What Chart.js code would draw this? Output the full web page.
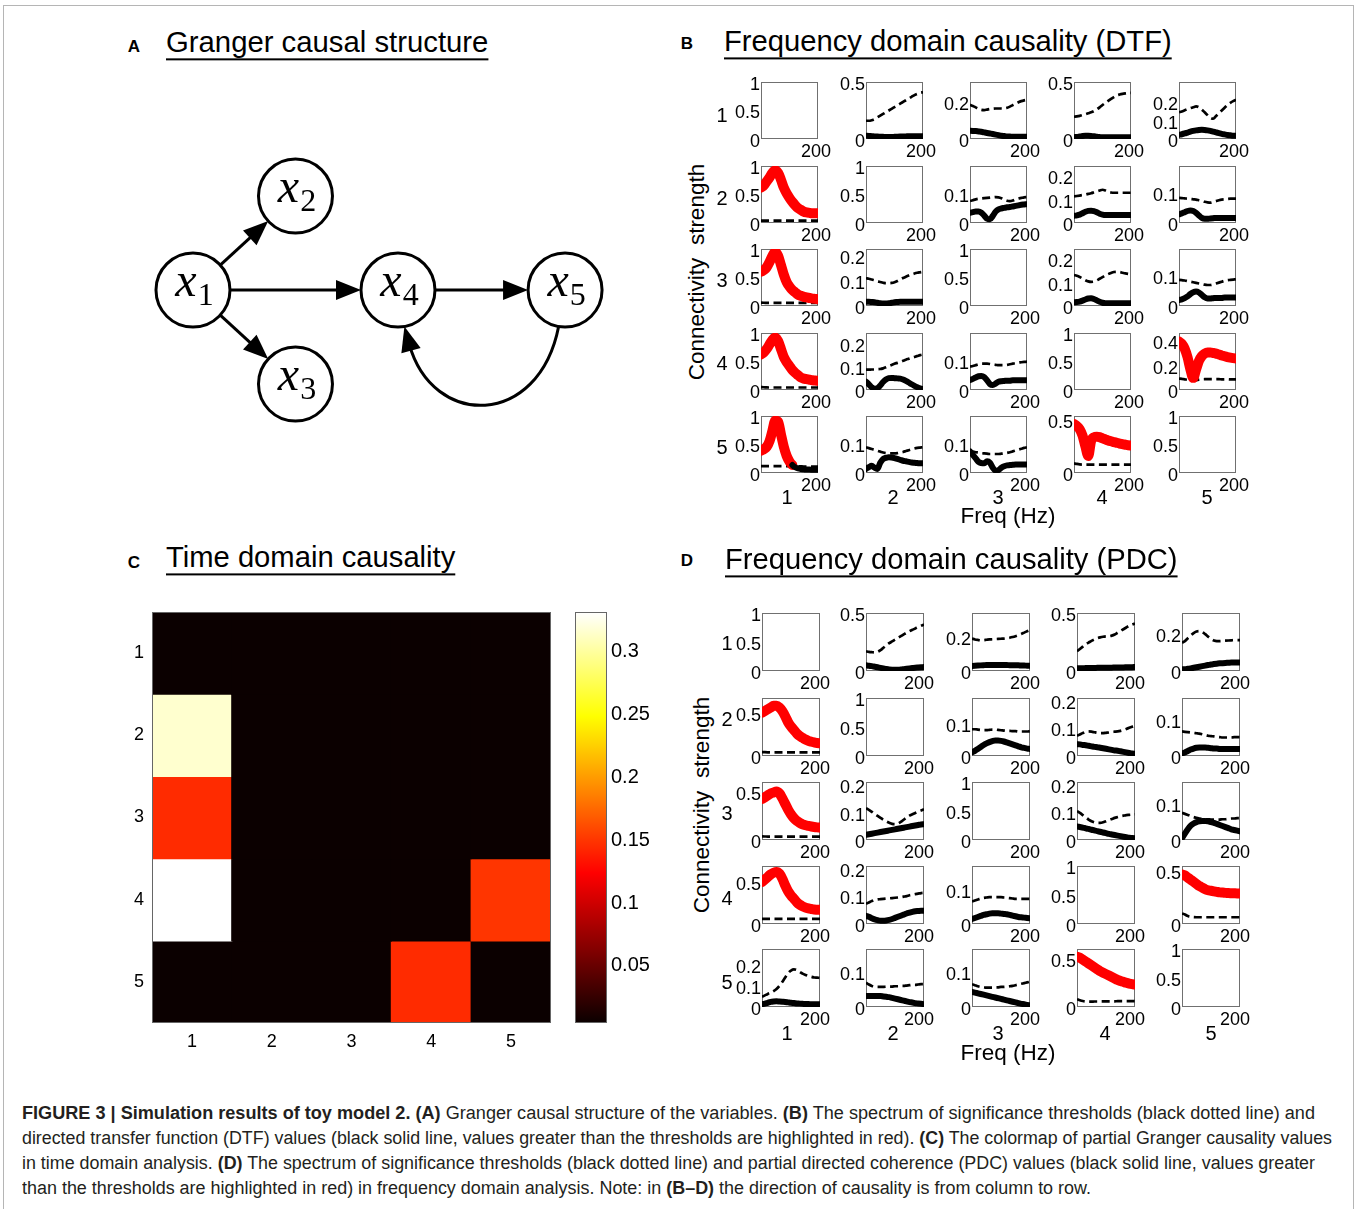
<!DOCTYPE html>
<html>
<head>
<meta charset="utf-8">
<script src="https://cdn.jsdelivr.net/npm/chart.js@4.4.1/dist/chart.umd.min.js"></script>
<style>
  body { margin: 0; background: #fff; width: 1357px; height: 1209px; overflow: hidden; position: relative;
         font-family: "Liberation Sans", Arial, Helvetica, sans-serif; color: #000; }
  canvas { position: absolute; }
  .t { position: absolute; white-space: pre; line-height: 1; }
  .title { text-decoration: underline; text-decoration-thickness: 2px; text-underline-offset: 6px; }
  .cap { position: absolute; white-space: pre; line-height: 1; color: #231f20; transform-origin: 0 50%; }
  #frame { position: absolute; left: 3px; top: 5px; width: 1349px; height: 1240px; border: 1px solid #b5b5b5; }
</style>
</head>
<body>
<div id="frame"></div>
<script>
// ─── Data ─────────────────────────────────────────────────────────────────────
const freqHz = [0, 10, 20, 30, 40, 50, 60, 70, 80, 90, 100, 110, 120, 130, 140, 150, 160, 170, 180, 190, 200];
const varLabels = ['1', '2', '3', '4', '5'];

// panel B: DTF, [row = target][column = source]; diagonal is empty
const dtfThreshold = [
  [null,
   [0.16,0.16,0.165,0.175,0.19,0.205,0.22,0.235,0.25,0.265,0.28,0.295,0.31,0.325,0.34,0.355,0.37,0.385,0.395,0.405,0.41],
   [0.186,0.18,0.172,0.164,0.158,0.157,0.16,0.163,0.165,0.166,0.166,0.166,0.167,0.17,0.176,0.184,0.192,0.2,0.206,0.21,0.213],
   [0.195,0.198,0.203,0.21,0.218,0.226,0.234,0.245,0.26,0.278,0.298,0.317,0.335,0.352,0.368,0.382,0.39,0.396,0.4,0.403,0.405],
   [0.145,0.15,0.156,0.162,0.168,0.173,0.177,0.172,0.16,0.145,0.13,0.115,0.11,0.125,0.14,0.155,0.17,0.185,0.197,0.206,0.213]],
  [[0.042,0.041,0.041,0.04,0.04,0.04,0.04,0.04,0.04,0.04,0.04,0.04,0.04,0.04,0.04,0.04,0.04,0.04,0.04,0.04,0.04],
   null,
   [0.077,0.08,0.083,0.085,0.086,0.087,0.088,0.089,0.09,0.091,0.09,0.087,0.082,0.078,0.077,0.079,0.083,0.086,0.088,0.09,0.091],
   [0.114,0.116,0.118,0.12,0.122,0.125,0.128,0.132,0.136,0.14,0.143,0.14,0.134,0.131,0.13,0.13,0.13,0.13,0.13,0.13,0.13],
   [0.084,0.083,0.082,0.081,0.08,0.079,0.078,0.076,0.074,0.071,0.069,0.068,0.07,0.073,0.076,0.078,0.079,0.08,0.081,0.081,0.081]],
  [[0.058,0.057,0.056,0.055,0.055,0.055,0.055,0.055,0.055,0.055,0.055,0.055,0.055,0.055,0.055,0.055,0.055,0.055,0.055,0.055,0.055],
   [0.112,0.11,0.107,0.104,0.1,0.097,0.094,0.092,0.092,0.093,0.096,0.101,0.107,0.113,0.118,0.123,0.127,0.131,0.134,0.136,0.138],
   null,
   [0.133,0.13,0.125,0.118,0.111,0.106,0.104,0.105,0.11,0.117,0.124,0.131,0.137,0.142,0.146,0.147,0.146,0.143,0.14,0.138,0.137],
   [0.087,0.086,0.085,0.083,0.081,0.079,0.077,0.075,0.073,0.071,0.07,0.07,0.072,0.075,0.078,0.081,0.084,0.086,0.087,0.088,0.089]],
  [[0.05,0.048,0.045,0.044,0.044,0.044,0.044,0.044,0.044,0.044,0.044,0.044,0.044,0.044,0.044,0.044,0.044,0.044,0.044,0.044,0.044],
   [0.089,0.089,0.09,0.09,0.091,0.092,0.095,0.1,0.105,0.11,0.115,0.119,0.123,0.128,0.133,0.137,0.141,0.145,0.149,0.153,0.156],
   [0.08,0.082,0.085,0.088,0.09,0.09,0.09,0.089,0.087,0.086,0.085,0.085,0.085,0.086,0.088,0.09,0.092,0.094,0.095,0.096,0.097],
   null,
   [0.094,0.092,0.088,0.084,0.081,0.08,0.082,0.086,0.088,0.089,0.09,0.09,0.09,0.089,0.089,0.088,0.088,0.088,0.087,0.087,0.087]],
  [[0.12,0.12,0.12,0.12,0.12,0.12,0.12,0.12,0.12,0.12,0.12,0.12,0.118,0.116,0.115,0.114,0.114,0.113,0.113,0.113,0.113],
   [0.088,0.085,0.082,0.079,0.076,0.073,0.07,0.068,0.067,0.067,0.067,0.068,0.07,0.072,0.075,0.078,0.081,0.084,0.086,0.087,0.088],
   [0.075,0.073,0.071,0.07,0.068,0.067,0.066,0.065,0.065,0.065,0.065,0.066,0.067,0.069,0.071,0.074,0.077,0.08,0.083,0.086,0.088],
   [0.09,0.085,0.081,0.079,0.078,0.078,0.078,0.078,0.078,0.078,0.078,0.078,0.078,0.078,0.078,0.078,0.078,0.078,0.078,0.078,0.078],
   null],
];
const dtfValue = [
  [null,
   [0.028,0.027,0.025,0.023,0.021,0.02,0.019,0.018,0.018,0.018,0.019,0.02,0.021,0.022,0.023,0.024,0.024,0.025,0.025,0.025,0.025],
   [0.045,0.044,0.043,0.041,0.039,0.036,0.033,0.03,0.027,0.024,0.021,0.018,0.016,0.014,0.013,0.012,0.012,0.012,0.012,0.012,0.012],
   [0.016,0.018,0.022,0.026,0.028,0.028,0.027,0.024,0.02,0.017,0.015,0.015,0.015,0.015,0.015,0.015,0.015,0.015,0.015,0.015,0.015],
   [0.023,0.026,0.03,0.035,0.04,0.044,0.047,0.049,0.05,0.049,0.047,0.044,0.04,0.036,0.032,0.028,0.025,0.022,0.02,0.018,0.017]],
  [[0.62,0.66,0.73,0.8,0.88,0.925,0.88,0.76,0.62,0.52,0.44,0.37,0.31,0.26,0.23,0.2,0.185,0.178,0.172,0.17,0.17],
   null,
   [0.036,0.038,0.04,0.04,0.036,0.026,0.015,0.013,0.025,0.04,0.048,0.051,0.053,0.055,0.056,0.058,0.06,0.062,0.064,0.065,0.066],
   [0.031,0.033,0.036,0.042,0.048,0.052,0.053,0.051,0.046,0.04,0.036,0.034,0.034,0.034,0.034,0.034,0.034,0.034,0.034,0.034,0.034],
   [0.029,0.032,0.036,0.04,0.042,0.04,0.034,0.025,0.017,0.014,0.014,0.015,0.016,0.017,0.017,0.017,0.017,0.017,0.017,0.017,0.017]],
  [[0.6,0.63,0.68,0.77,0.88,0.95,0.88,0.72,0.55,0.42,0.34,0.28,0.24,0.2,0.18,0.16,0.15,0.14,0.13,0.125,0.12],
   [0.017,0.017,0.016,0.015,0.013,0.011,0.01,0.01,0.011,0.013,0.015,0.016,0.017,0.017,0.017,0.017,0.017,0.017,0.017,0.017,0.017],
   null,
   [0.016,0.017,0.019,0.023,0.028,0.032,0.033,0.03,0.024,0.018,0.014,0.012,0.012,0.012,0.012,0.012,0.012,0.012,0.012,0.012,0.012],
   [0.02,0.022,0.026,0.032,0.04,0.046,0.048,0.045,0.037,0.029,0.025,0.025,0.026,0.027,0.027,0.027,0.028,0.028,0.028,0.028,0.028]],
  [[0.625,0.66,0.72,0.8,0.88,0.92,0.86,0.72,0.58,0.49,0.42,0.35,0.3,0.26,0.22,0.2,0.19,0.18,0.17,0.165,0.16],
   [0.037,0.025,0.012,0.005,0.008,0.02,0.035,0.046,0.052,0.053,0.052,0.051,0.05,0.046,0.04,0.033,0.025,0.018,0.012,0.007,0.004],
   [0.034,0.038,0.043,0.047,0.048,0.044,0.033,0.02,0.017,0.022,0.028,0.03,0.031,0.032,0.032,0.033,0.033,0.033,0.033,0.033,0.033],
   null,
   [0.4,0.38,0.34,0.27,0.17,0.1,0.17,0.24,0.28,0.3,0.31,0.31,0.305,0.3,0.292,0.285,0.278,0.272,0.267,0.263,0.26]],
  [[0.39,0.42,0.46,0.56,0.74,0.92,0.9,0.68,0.46,0.3,0.2,0.14,0.1,0.08,0.07,0.065,0.06,0.06,0.058,0.057,0.056],
   [0.014,0.02,0.025,0.018,0.014,0.035,0.048,0.052,0.054,0.053,0.051,0.048,0.045,0.042,0.04,0.038,0.036,0.035,0.034,0.033,0.033],
   [0.074,0.062,0.05,0.038,0.034,0.033,0.04,0.035,0.018,0.008,0.01,0.018,0.023,0.026,0.027,0.028,0.029,0.029,0.029,0.029,0.029],
   [0.46,0.44,0.41,0.35,0.25,0.16,0.3,0.335,0.34,0.336,0.325,0.315,0.305,0.297,0.29,0.283,0.276,0.27,0.265,0.26,0.258],
   null],
];
const dtfYMax = [
  [1, 0.5, 0.31, 0.5, 0.31],
  [1, 1, 0.2, 0.245, 0.19],
  [1, 0.23, 1, 0.245, 0.19],
  [1, 0.25, 0.195, 1, 0.47],
  [1, 0.195, 0.195, 0.534, 1],
];
const dtfYTicks = [
  [[0, 0.5, 1], [0, 0.5], [0, 0.2], [0, 0.5], [0, 0.1, 0.2]],
  [[0, 0.5, 1], [0, 0.5, 1], [0, 0.1], [0, 0.1, 0.2], [0, 0.1]],
  [[0, 0.5, 1], [0, 0.1, 0.2], [0, 0.5, 1], [0, 0.1, 0.2], [0, 0.1]],
  [[0, 0.5, 1], [0, 0.1, 0.2], [0, 0.1], [0, 0.5, 1], [0, 0.2, 0.4]],
  [[0, 0.5, 1], [0, 0.1], [0, 0.1], [0, 0.5], [0, 0.5, 1]],
];

// panel D: PDC
const pdcThreshold = [
  [null,
   [0.17,0.165,0.162,0.16,0.165,0.18,0.2,0.22,0.24,0.255,0.27,0.285,0.3,0.315,0.33,0.343,0.355,0.367,0.378,0.39,0.4],
   [0.19,0.185,0.182,0.18,0.181,0.183,0.185,0.186,0.187,0.188,0.189,0.19,0.192,0.195,0.199,0.204,0.21,0.217,0.225,0.233,0.24],
   [0.17,0.19,0.21,0.23,0.245,0.26,0.272,0.283,0.29,0.295,0.298,0.3,0.305,0.315,0.33,0.345,0.36,0.375,0.39,0.4,0.41],
   [0.151,0.16,0.175,0.19,0.203,0.211,0.213,0.208,0.197,0.184,0.172,0.163,0.16,0.16,0.161,0.162,0.163,0.164,0.165,0.165,0.165]],
  [[0.045,0.044,0.043,0.042,0.042,0.042,0.042,0.042,0.042,0.042,0.042,0.042,0.042,0.042,0.042,0.042,0.042,0.042,0.042,0.042,0.042],
   null,
   [0.083,0.083,0.082,0.081,0.08,0.08,0.081,0.082,0.082,0.081,0.08,0.079,0.078,0.078,0.077,0.077,0.076,0.076,0.076,0.076,0.077],
   [0.073,0.078,0.083,0.087,0.089,0.088,0.086,0.084,0.083,0.083,0.084,0.085,0.087,0.088,0.089,0.091,0.094,0.098,0.102,0.106,0.11],
   [0.069,0.068,0.067,0.066,0.065,0.064,0.063,0.061,0.059,0.057,0.056,0.055,0.054,0.053,0.052,0.052,0.052,0.052,0.053,0.053,0.053]],
  [[0.038,0.037,0.036,0.036,0.036,0.036,0.036,0.036,0.036,0.036,0.036,0.036,0.036,0.036,0.036,0.036,0.036,0.036,0.036,0.036,0.036],
   [0.116,0.11,0.103,0.095,0.088,0.081,0.074,0.068,0.063,0.059,0.058,0.06,0.066,0.074,0.082,0.089,0.094,0.099,0.104,0.108,0.112],
   null,
   [0.105,0.098,0.09,0.082,0.074,0.068,0.064,0.062,0.062,0.064,0.068,0.072,0.076,0.08,0.083,0.086,0.088,0.09,0.091,0.092,0.093],
   [0.076,0.073,0.07,0.067,0.064,0.062,0.06,0.059,0.058,0.058,0.057,0.057,0.057,0.057,0.058,0.058,0.059,0.06,0.06,0.061,0.061]],
  [[0.062,0.061,0.06,0.06,0.06,0.06,0.06,0.06,0.06,0.06,0.06,0.06,0.06,0.06,0.06,0.06,0.06,0.06,0.06,0.06,0.06],
   [0.073,0.078,0.083,0.087,0.089,0.09,0.091,0.092,0.093,0.094,0.095,0.096,0.097,0.099,0.101,0.104,0.106,0.108,0.11,0.112,0.113],
   [0.067,0.07,0.073,0.076,0.078,0.079,0.08,0.08,0.08,0.08,0.08,0.079,0.078,0.077,0.076,0.075,0.075,0.075,0.075,0.075,0.075],
   null,
   [0.1,0.09,0.075,0.068,0.065,0.064,0.064,0.064,0.064,0.064,0.064,0.064,0.064,0.064,0.064,0.064,0.064,0.064,0.064,0.064,0.064]],
  [[0.048,0.055,0.062,0.068,0.075,0.085,0.1,0.119,0.14,0.16,0.173,0.178,0.175,0.167,0.158,0.152,0.147,0.143,0.14,0.139,0.138],
   [0.069,0.064,0.06,0.058,0.057,0.057,0.057,0.058,0.058,0.058,0.059,0.059,0.06,0.06,0.061,0.062,0.063,0.063,0.064,0.065,0.065],
   [0.065,0.062,0.059,0.057,0.056,0.055,0.055,0.055,0.056,0.056,0.057,0.057,0.058,0.059,0.06,0.062,0.064,0.066,0.068,0.07,0.072],
   [0.081,0.07,0.062,0.058,0.056,0.056,0.057,0.057,0.058,0.058,0.058,0.059,0.059,0.059,0.06,0.06,0.06,0.06,0.06,0.06,0.06],
   null],
];
const pdcValue = [
  [null,
   [0.049,0.046,0.042,0.037,0.032,0.027,0.022,0.017,0.013,0.011,0.01,0.011,0.013,0.016,0.019,0.022,0.025,0.028,0.03,0.032,0.034],
   [0.03,0.031,0.032,0.033,0.034,0.035,0.035,0.035,0.035,0.035,0.035,0.035,0.035,0.034,0.034,0.033,0.033,0.032,0.032,0.031,0.031],
   [0.023,0.024,0.024,0.025,0.025,0.026,0.026,0.027,0.027,0.028,0.028,0.029,0.029,0.03,0.03,0.031,0.031,0.032,0.033,0.033,0.034],
   [0.009,0.01,0.012,0.014,0.017,0.02,0.023,0.026,0.029,0.032,0.035,0.037,0.039,0.041,0.042,0.043,0.044,0.045,0.045,0.045,0.045]],
  [[0.5,0.52,0.54,0.56,0.58,0.58,0.56,0.52,0.46,0.39,0.34,0.3,0.26,0.23,0.21,0.19,0.175,0.165,0.157,0.15,0.147],
   null,
   [0.011,0.016,0.022,0.028,0.034,0.039,0.043,0.046,0.048,0.048,0.047,0.045,0.042,0.039,0.036,0.033,0.03,0.027,0.025,0.023,0.022],
   [0.043,0.042,0.04,0.039,0.037,0.035,0.033,0.032,0.03,0.028,0.026,0.024,0.022,0.02,0.019,0.017,0.015,0.013,0.011,0.009,0.008],
   [0.007,0.01,0.014,0.018,0.021,0.023,0.024,0.024,0.024,0.023,0.022,0.021,0.021,0.02,0.02,0.02,0.02,0.02,0.02,0.02,0.02]],
  [[0.43,0.45,0.47,0.49,0.5,0.51,0.49,0.44,0.38,0.32,0.27,0.23,0.2,0.18,0.165,0.155,0.148,0.142,0.137,0.133,0.13],
   [0.019,0.021,0.023,0.025,0.027,0.029,0.031,0.033,0.035,0.037,0.039,0.041,0.043,0.045,0.047,0.049,0.051,0.053,0.055,0.057,0.058],
   null,
   [0.049,0.047,0.045,0.042,0.04,0.037,0.035,0.032,0.03,0.027,0.025,0.022,0.02,0.018,0.016,0.014,0.012,0.01,0.008,0.007,0.006],
   [0.005,0.018,0.03,0.04,0.046,0.05,0.052,0.053,0.053,0.052,0.05,0.048,0.045,0.042,0.039,0.036,0.033,0.03,0.028,0.026,0.024]],
  [[0.5,0.53,0.56,0.59,0.61,0.62,0.6,0.54,0.46,0.39,0.34,0.3,0.26,0.23,0.21,0.195,0.185,0.178,0.172,0.17,0.168],
   [0.03,0.026,0.021,0.017,0.014,0.012,0.012,0.013,0.015,0.018,0.022,0.026,0.03,0.034,0.038,0.041,0.044,0.046,0.047,0.048,0.048],
   [0.015,0.018,0.021,0.024,0.027,0.029,0.031,0.032,0.032,0.032,0.031,0.03,0.029,0.027,0.025,0.023,0.021,0.02,0.019,0.018,0.017],
   null,
   [0.47,0.46,0.44,0.42,0.4,0.38,0.36,0.345,0.33,0.32,0.315,0.31,0.305,0.3,0.298,0.295,0.293,0.292,0.291,0.29,0.29]],
  [[0.013,0.016,0.02,0.024,0.026,0.027,0.026,0.025,0.024,0.022,0.02,0.019,0.017,0.016,0.015,0.014,0.014,0.013,0.013,0.013,0.013],
   [0.031,0.031,0.031,0.031,0.031,0.031,0.03,0.029,0.028,0.026,0.024,0.022,0.02,0.018,0.016,0.014,0.013,0.011,0.01,0.009,0.008],
   [0.043,0.041,0.039,0.037,0.035,0.033,0.031,0.029,0.027,0.025,0.023,0.021,0.019,0.017,0.015,0.013,0.011,0.009,0.008,0.006,0.005],
   [0.52,0.51,0.49,0.47,0.45,0.43,0.41,0.39,0.37,0.355,0.34,0.325,0.31,0.295,0.28,0.27,0.26,0.25,0.242,0.236,0.232],
   null],
];
const pdcYMax = [
  [1, 0.5, 0.34, 0.5, 0.31],
  [0.67, 1, 0.18, 0.21, 0.163],
  [0.61, 0.212, 1, 0.21, 0.162],
  [0.69, 0.21, 0.173, 1, 0.55],
  [0.275, 0.165, 0.165, 0.6, 1],
];
const pdcYTicks = [
  [[0, 0.5, 1], [0, 0.5], [0, 0.2], [0, 0.5], [0, 0.2]],
  [[0, 0.5], [0, 0.5, 1], [0, 0.1], [0, 0.1, 0.2], [0, 0.1]],
  [[0, 0.5], [0, 0.1, 0.2], [0, 0.5, 1], [0, 0.1, 0.2], [0, 0.1]],
  [[0, 0.5], [0, 0.1, 0.2], [0, 0.1], [0, 0.5, 1], [0, 0.5]],
  [[0, 0.1, 0.2], [0, 0.1], [0, 0.1], [0, 0.5], [0, 0.5, 1]],
];

// panel C: partial Granger causality, [row = target][column = source]
const pgcTargets = [1, 2, 3, 4, 5];
const pgcValues = [
  [0.004, 0.004, 0.004, 0.004, 0.004],
  [0.316, 0.004, 0.004, 0.004, 0.004],
  [0.146, 0.004, 0.004, 0.004, 0.004],
  [0.331, 0.004, 0.004, 0.004, 0.148],
  [0.004, 0.004, 0.004, 0.145, 0.004],
];
const colorLimits = [0.0037, 0.331];
const colorbarTicks = [0.05, 0.1, 0.15, 0.2, 0.25, 0.3];

// panel A: causal graph
const nodeX = [0, 1, 1, 2, 3.63];
const nodeY = [0, 1, -1, 0, 0];
const graphEdges = [[0, 1], [0, 2], [0, 3], [3, 4]];
const curvedEdges = [[4, 3]];

// ─── Setup ────────────────────────────────────────────────────────────────────
const FONT = '"Liberation Sans", Arial, Helvetica, sans-serif';
const RED = '#ff0000';
Chart.defaults.font.family = FONT;
Chart.defaults.color = '#000';
Chart.defaults.animation = false;
Chart.defaults.responsive = false;
Chart.defaults.events = [];
Chart.defaults.plugins.legend.display = false;
Chart.defaults.plugins.tooltip.enabled = false;

function addCanvas(left, top, w, h) {
  const c = document.createElement('canvas');
  c.width = w; c.height = h;
  c.style.left = left + 'px'; c.style.top = top + 'px';
  c.style.width = w + 'px'; c.style.height = h + 'px';
  document.body.appendChild(c);
  return c;
}

function addText(str, x, y, size, opts = {}) {
  const d = document.createElement('div');
  d.className = 't' + (opts.cls ? ' ' + opts.cls : '');
  if (opts.html) d.innerHTML = str; else d.textContent = str;
  d.style.fontSize = size + 'px';
  d.style.left = x + 'px';
  d.style.top = y + 'px';
  if (opts.bold) d.style.fontWeight = 'bold';
  if (opts.family) d.style.fontFamily = opts.family;
  const tx = opts.align === 'left' ? '0' : '-50%';
  d.style.transform = `translate(${tx}, -50%)` + (opts.rotate ? ` rotate(${opts.rotate}deg)` : '');
  document.body.appendChild(d);
  return d;
}

// Axes box drawn round the plot area
const boxPlugin = {
  id: 'box',
  draw(chart, opts) {
    const a = chart.chartArea, ctx = chart.ctx;
    ctx.save();
    ctx.strokeStyle = opts.color || '#707070';
    ctx.lineWidth = 1;
    ctx.strokeRect(Math.round(a.left) + 0.5, Math.round(a.top) + 0.5,
      Math.round(a.right - a.left) - 1, Math.round(a.bottom - a.top) - 1);
    ctx.restore();
  },
  beforeDatasetsDraw(chart, args, opts) {
    if (opts.fill) {
      const a = chart.chartArea;
      chart.ctx.save();
      chart.ctx.fillStyle = opts.fill;
      chart.ctx.fillRect(a.left, a.top, a.right - a.left, a.bottom - a.top);
      chart.ctx.restore();
    }
    if (!opts.after) this.draw(chart, opts);
  },
  afterDatasetsDraw(chart, args, opts) { if (opts.after) this.draw(chart, opts); },
};

// ─── Small spectrum plots (panels B and D) ────────────────────────────────────
function smallPlot(left, top, size, thr, val, ymax, yticks, xShift) {
  const padL = 42, padR = 24, padT = 16, padB = 24;
  const cv = addCanvas(left - padL, top - padT, padL + size + padR, padT + size + padB);
  const datasets = [];
  if (thr) {
    const above = (ctx) => val[ctx.p0DataIndex] > thr[ctx.p0DataIndex] &&
                           val[ctx.p1DataIndex] > thr[ctx.p1DataIndex];
    datasets.push({
      data: freqHz.map((f, i) => ({ x: f, y: thr[i] })),
      borderColor: '#000', borderWidth: 2.7, borderDash: [8, 4.5],
      pointRadius: 0, cubicInterpolationMode: 'monotone', order: 2,
    });
    datasets.push({
      data: freqHz.map((f, i) => ({ x: f, y: val[i] })),
      borderColor: '#000', borderWidth: 6, pointRadius: 0,
      cubicInterpolationMode: 'monotone', borderCapStyle: 'round', borderJoinStyle: 'round',
      segment: {
        borderColor: ctx => above(ctx) ? RED : '#000',
        borderWidth: ctx => above(ctx) ? 10 : 6,
      },
      order: 1,
    });
  }
  new Chart(cv, {
    type: 'line',
    data: { datasets },
    options: {
      layout: { padding: { top: padT, right: padR, left: 0, bottom: 0 }, autoPadding: false },
      scales: {
        x: {
          type: 'linear', min: 0, max: 200,
          grid: { display: false, drawTicks: false }, border: { display: false },
          ticks: { font: { size: 18 }, padding: 2, maxRotation: 0, autoSkip: false,
                   labelOffset: xShift, callback: v => String(v) },
          afterBuildTicks: s => { s.ticks = [{ value: 200 }]; },
          afterFit: s => { s.height = padB; },
        },
        y: {
          min: 0, max: ymax,
          grid: { display: false, drawTicks: false }, border: { display: false },
          ticks: { font: { size: 18 }, padding: 1, labelOffset: 3, autoSkip: false,
                   callback: v => String(v) },
          afterBuildTicks: s => { s.ticks = yticks.map(v => ({ value: v })); },
          afterFit: s => { s.width = padL; },
        },
      },
      plugins: { box: { color: '#707070' } },
    },
    plugins: [boxPlugin],
  });
}

function spectrumGrid(cfg) {
  for (let r = 0; r < 5; r++) {
    for (let c = 0; c < 5; c++) {
      smallPlot(cfg.lefts[c], cfg.tops[r], cfg.size, cfg.thr[r][c], cfg.val[r][c],
        cfg.ymax[r][c], cfg.yticks[r][c], cfg.xShift);
    }
    addText(varLabels[r], cfg.rowX, cfg.rowY[r], 20);
  }
  varLabels.forEach((l, c) => addText(l, cfg.colX[c], cfg.colY, 20));
  addText('Freq (Hz)', 1008, cfg.freqY, 22.5);
  addText('Connectivity  strength', cfg.connX, cfg.connY, 22.5, { rotate: -90 });
}

spectrumGrid({
  lefts: [761, 866, 970, 1074, 1179], tops: [82, 166, 249, 333, 416], size: 57,
  thr: dtfThreshold, val: dtfValue, ymax: dtfYMax, yticks: dtfYTicks, xShift: -2,
  rowX: 722, rowY: [115, 198, 280, 363, 447],
  colX: [787, 893, 998, 1102, 1207], colY: 497, freqY: 516, connX: 697, connY: 272,
});
spectrumGrid({
  lefts: [762, 866, 972, 1077, 1182], tops: [613, 698, 782, 866, 949], size: 58,
  thr: pdcThreshold, val: pdcValue, ymax: pdcYMax, yticks: pdcYTicks, xShift: -5,
  rowX: 727, rowY: [643, 719, 813, 898, 982],
  colX: [787, 893, 998, 1105, 1211], colY: 1033, freqY: 1053, connX: 702, connY: 805,
});

// ─── Panel C: heat map + colour bar ───────────────────────────────────────────
function hotAt(t) {
  // MATLAB "hot" colormap, 64 levels
  const i = 1 + Math.round(Math.max(0, Math.min(1, t)) * 63);
  const r = Math.min(1, i / 24), g = Math.max(0, Math.min(1, (i - 24) / 24)), b = Math.max(0, Math.min(1, (i - 48) / 16));
  return `rgb(${Math.round(r * 255)},${Math.round(g * 255)},${Math.round(b * 255)})`;
}
const hotColor = v => hotAt((v - colorLimits[0]) / (colorLimits[1] - colorLimits[0]));

const HEAT_PAD_T = 30;
const heatCanvas = addCanvas(100, 612 - HEAT_PAD_T, 470, HEAT_PAD_T + 411 + 37);
new Chart(heatCanvas, {
  type: 'bar',
  data: {
    labels: varLabels,
    datasets: pgcTargets.map((t, r) => ({
      data: pgcValues[r].map(() => [t - 0.5, t + 0.5]),
      backgroundColor: pgcValues[r].map(hotColor),
      grouped: false, barPercentage: 1, categoryPercentage: 1, borderWidth: 0, inflateAmount: 0.6,
    })),
  },
  options: {
    layout: { padding: { top: HEAT_PAD_T, right: 19, left: 0, bottom: 0 } },
    scales: {
      x: {
        grid: { display: false, drawTicks: false }, border: { display: false },
        ticks: { font: { size: 18 }, padding: 8 },
        afterFit: s => { s.height = 37; },
      },
      y: {
        type: 'linear', reverse: true, min: 0.5, max: 5.5,
        grid: { display: false, drawTicks: false }, border: { display: false },
        ticks: { font: { size: 18 }, padding: 8, callback: v => String(v) },
        afterBuildTicks: s => { s.ticks = pgcTargets.map(v => ({ value: v })); },
        afterFit: s => { s.width = 52; },
      },
    },
    plugins: { box: { after: true, color: '#666', fill: hotColor(colorLimits[0]) } },
  },
  plugins: [boxPlugin],
});

function hotGradient(chart) {
  const { ctx, chartArea } = chart;
  if (!chartArea) return '#000';
  const g = ctx.createLinearGradient(0, chartArea.bottom, 0, chartArea.top);
  for (let k = 0; k <= 63; k++) g.addColorStop(k / 63, hotAt(k / 63));
  return g;
}

const cbCanvas = addCanvas(560, 612 - HEAT_PAD_T, 110, HEAT_PAD_T + 411 + 37);
new Chart(cbCanvas, {
  type: 'bar',
  data: {
    labels: ['colorbar'],
    datasets: [{
      data: [colorLimits],
      backgroundColor: ctx => hotGradient(ctx.chart),
      barPercentage: 1, categoryPercentage: 1, borderWidth: 0,
    }],
  },
  options: {
    layout: { padding: { top: HEAT_PAD_T, left: 15, bottom: 37, right: 0 } },
    scales: {
      x: { display: false },
      y: {
        position: 'right', min: colorLimits[0], max: colorLimits[1],
        grid: { display: false, drawTicks: false }, border: { display: false },
        ticks: { font: { size: 20 }, padding: 4, labelOffset: 1, callback: v => String(v) },
        afterBuildTicks: s => { s.ticks = colorbarTicks.map(v => ({ value: v })); },
        afterFit: s => { s.width = 63; },
      },
    },
    plugins: { box: { after: true, color: '#666' } },
  },
  plugins: [boxPlugin],
});

// ─── Panel A: causal graph ────────────────────────────────────────────────────
const NODE_R = 37;
function arrowHead(ctx, tipX, tipY, dx, dy) {
  const len = Math.hypot(dx, dy), ux = dx / len, uy = dy / len;
  const L = 25, W = 10;
  ctx.beginPath();
  ctx.moveTo(tipX, tipY);
  ctx.lineTo(tipX - ux * L - uy * W, tipY - uy * L + ux * W);
  ctx.lineTo(tipX - ux * L + uy * W, tipY - uy * L - ux * W);
  ctx.closePath();
  ctx.fill();
}
const edgePlugin = {
  id: 'edges',
  beforeDatasetsDraw(chart) {
    const { ctx, scales } = chart;
    const px = i => scales.x.getPixelForValue(nodeX[i]);
    const py = i => scales.y.getPixelForValue(nodeY[i]);
    ctx.save();
    ctx.strokeStyle = '#000'; ctx.fillStyle = '#000'; ctx.lineWidth = 3;
    graphEdges.forEach(([a, b]) => {
      const dx = px(b) - px(a), dy = py(b) - py(a), d = Math.hypot(dx, dy);
      const ux = dx / d, uy = dy / d;
      const sx = px(a) + ux * NODE_R, sy = py(a) + uy * NODE_R;
      const ex = px(b) - ux * NODE_R, ey = py(b) - uy * NODE_R;
      ctx.beginPath(); ctx.moveTo(sx, sy); ctx.lineTo(ex - ux * 20, ey - uy * 20); ctx.stroke();
      arrowHead(ctx, ex, ey, ux, uy);
    });
    curvedEdges.forEach(([a, b]) => {
      const a0 = Math.PI * 100 / 180, b0 = Math.PI * 80 / 180;
      const sx = px(a) + Math.cos(a0) * NODE_R, sy = py(a) + Math.sin(a0) * NODE_R;
      const ex = px(b) + Math.cos(b0) * NODE_R, ey = py(b) + Math.sin(b0) * NODE_R;
      const c1x = sx - 20, c1y = sy + 102, c2x = ex + 28, c2y = ey + 102;
      const dx = ex - c2x, dy = ey - c2y, d = Math.hypot(dx, dy);
      ctx.beginPath(); ctx.moveTo(sx, sy);
      ctx.bezierCurveTo(c1x, c1y, c2x, c2y, ex - dx / d * 18, ey - dy / d * 18);
      ctx.stroke();
      arrowHead(ctx, ex, ey, dx, dy);
    });
    ctx.restore();
  },
};
const graphCanvas = addCanvas(120, 120, 500, 320);
const graphChart = new Chart(graphCanvas, {
  type: 'scatter',
  data: {
    datasets: [{
      data: nodeX.map((x, i) => ({ x, y: nodeY[i] })),
      pointRadius: NODE_R, pointBackgroundColor: '#fff', pointBorderColor: '#000', pointBorderWidth: 3,
      clip: false,
    }],
  },
  options: {
    layout: { padding: 0, autoPadding: false },
    scales: {
      x: { display: false, min: -0.712, max: 4.166 },
      y: { display: false, min: -1.595, max: 1.809 },
    },
  },
  plugins: [edgePlugin],
});
nodeX.forEach((x, i) => {
  const cx = 120 + graphChart.scales.x.getPixelForValue(x);
  const cy = 120 + graphChart.scales.y.getPixelForValue(nodeY[i]);
  addText(`<span style="font-style:italic;font-size:48px">x</span><span style="font-size:32px;position:relative;top:9px;left:1px">${varLabels[i]}</span>`,
    cx + 1, cy - 10, 48, { html: true, family: '"Liberation Serif", "DejaVu Serif", serif' });
});

// ─── Titles ───────────────────────────────────────────────────────────────────
addText('A', 134, 46, 17, { bold: true });
addText('Granger causal structure', 166, 42, 29.3, { align: 'left', cls: 'title' });
addText('B', 687, 43, 17, { bold: true });
addText('Frequency domain causality (DTF)', 724, 42, 29.2, { align: 'left', cls: 'title' });
addText('C', 134, 562, 17, { bold: true });
addText('Time domain causality', 166, 558, 29.2, { align: 'left', cls: 'title' });
addText('D', 687, 560, 17, { bold: true });
addText('Frequency domain causality (PDC)', 725, 560, 29.2, { align: 'left', cls: 'title' });

// ─── Caption ──────────────────────────────────────────────────────────────────
const captionLines = [
  [['FIGURE 3 | Simulation results of toy model 2. (A)', 1], [' Granger causal structure of the variables. ', 0], ['(B)', 1], [' The spectrum of significance thresholds (black dotted line) and', 0]],
  [['directed transfer function (DTF) values (black solid line, values greater than the thresholds are highlighted in red). ', 0], ['(C)', 1], [' The colormap of partial Granger causality values', 0]],
  [['in time domain analysis. ', 0], ['(D)', 1], [' The spectrum of significance thresholds (black dotted line) and partial directed coherence (PDC) values (black solid line, values greater', 0]],
  [['than the thresholds are highlighted in red) in frequency domain analysis. Note: in ', 0], ['(B\u2013D)', 1], [' the direction of causality is from column to row.', 0]],
];
const captionRight = [1315, 1332, 1315, 1091];
captionLines.forEach((parts, k) => {
  const d = document.createElement('div');
  d.className = 'cap';
  d.style.left = '22px';
  d.style.top = (1113 + 25 * k - 9) + 'px';
  d.style.fontSize = '18px';
  parts.forEach(([txt, b]) => {
    const s = document.createElement('span');
    s.textContent = txt;
    if (b) s.style.fontWeight = 'bold';
    d.appendChild(s);
  });
  document.body.appendChild(d);
  const w = d.getBoundingClientRect().width;
  d.style.transform = `scaleX(${(captionRight[k] - 22) / w})`;
});
</script>
</body>
</html>
